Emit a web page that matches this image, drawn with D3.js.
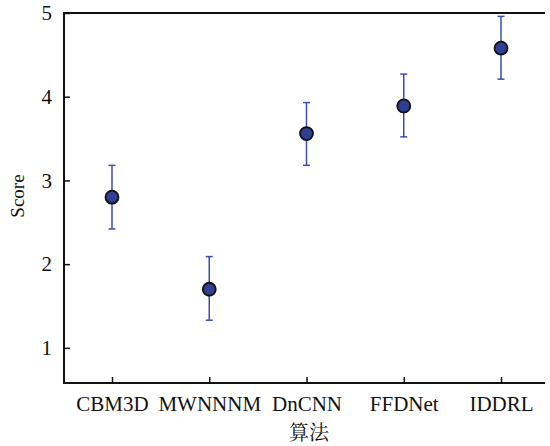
<!DOCTYPE html>
<html>
<head>
<meta charset="utf-8">
<script src="https://cdn.jsdelivr.net/npm/d3@7"></script>
<style>
  body { margin: 0; background: #fff; }
</style>
</head>
<body>
<div id="chart"></div>
<script>
const categories = ["CBM3D", "MWNNNM", "DnCNN", "FFDNet", "IDDRL"];
const scores = [2.80, 1.70, 3.56, 3.89, 4.58];
const errUpper = [3.18, 2.09, 3.93, 4.27, 4.96];
const errLower = [2.42, 1.33, 3.18, 3.52, 4.21];
const yTicks = [1, 2, 3, 4, 5];

const serif = "'Liberation Serif', 'Times New Roman', Times, serif";
const width = 550, height = 446;
const plotL = 64, plotR = 545, plotT = 13, plotB = 383;

const svg = d3.select("#chart").append("svg")
  .attr("width", width)
  .attr("height", height);

const x = d3.scalePoint()
  .domain(categories)
  .range([plotL + 48, plotR - 44]);

const y = d3.scaleLinear()
  .domain([0.58, 5])
  .range([plotB, plotT]);

// frame lines (left, top, bottom)
svg.append("path")
  .attr("d", `M${plotR},${plotT}H${plotL}V${plotB}H${plotR}`)
  .attr("fill", "none")
  .attr("stroke", "#111")
  .attr("stroke-width", 2);

// y axis
const yAxis = svg.append("g")
  .attr("transform", `translate(${plotL},0)`)
  .call(d3.axisLeft(y).tickValues(yTicks).tickSize(-6).tickPadding(12).tickFormat(d3.format("d")));
yAxis.attr("font-family", null);
yAxis.select(".domain").remove();
yAxis.selectAll("line").attr("stroke", "#111").attr("stroke-width", 1.5);
yAxis.selectAll("text").attr("font-size", 21).attr("fill", "#111").style("font-family", serif);

// x axis
const xAxis = svg.append("g")
  .attr("transform", `translate(0,${plotB})`)
  .call(d3.axisBottom(x).tickSize(-6).tickPadding(13));
xAxis.attr("font-family", null);
xAxis.select(".domain").remove();
xAxis.selectAll("line").attr("stroke", "#111").attr("stroke-width", 1.5);
xAxis.selectAll("text").attr("font-size", 21).attr("fill", "#111").style("font-family", serif);

const data = categories.map((c, i) => ({ c, v: scores[i], hi: errUpper[i], lo: errLower[i] }));

// error bars
const eb = svg.append("g").attr("stroke", "#3c4db0").attr("stroke-width", 1.5);
eb.selectAll(".stem").data(data).enter().append("line")
  .attr("x1", d => x(d.c)).attr("x2", d => x(d.c))
  .attr("y1", d => y(d.hi)).attr("y2", d => y(d.lo));
eb.selectAll(".capt").data(data).enter().append("line")
  .attr("x1", d => x(d.c) - 3.5).attr("x2", d => x(d.c) + 3.5)
  .attr("y1", d => y(d.hi)).attr("y2", d => y(d.hi));
eb.selectAll(".capb").data(data).enter().append("line")
  .attr("x1", d => x(d.c) - 3.5).attr("x2", d => x(d.c) + 3.5)
  .attr("y1", d => y(d.lo)).attr("y2", d => y(d.lo));

// points
svg.selectAll(".pt").data(data).enter().append("circle")
  .attr("cx", d => x(d.c))
  .attr("cy", d => y(d.v))
  .attr("r", 6.5)
  .attr("fill", "#2f3f93")
  .attr("stroke", "#111")
  .attr("stroke-width", 1.8);

// axis titles
svg.append("text")
  .attr("transform", "translate(24,196) rotate(-90)")
  .attr("text-anchor", "middle")
  .attr("font-size", 19)
  .attr("fill", "#111")
  .style("font-family", serif)
  .text("Score");

svg.append("text")
  .attr("x", 309)
  .attr("y", 440)
  .attr("text-anchor", "middle")
  .attr("font-size", 20)
  .attr("fill", "#111")
  .style("font-family", "'Noto Serif CJK SC', 'Noto Sans CJK SC', serif")
  .text("算法");
</script>
</body>
</html>
